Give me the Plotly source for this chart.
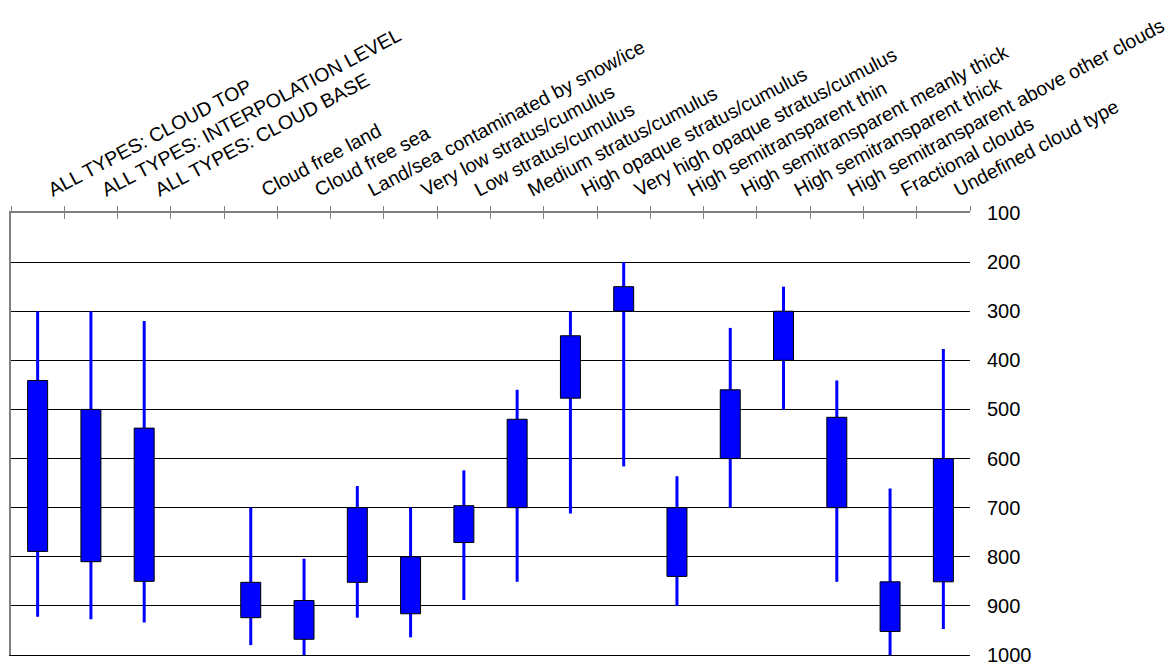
import plotly.graph_objects as go

# Cloud categories along the top axis (empty slot separates the summary columns)
categories = [
    "ALL TYPES: CLOUD TOP",
    "ALL TYPES: INTERPOLATION LEVEL",
    "ALL TYPES: CLOUD BASE",
    "",
    "Cloud free land",
    "Cloud free sea",
    "Land/sea contaminated by snow/ice",
    "Very low stratus/cumulus",
    "Low stratus/cumulus",
    "Medium stratus/cumulus",
    "High opaque stratus/cumulus",
    "Very high opaque stratus/cumulus",
    "High semitransparent thin",
    "High semitransparent meanly thick",
    "High semitransparent thick",
    "High semitransparent above other clouds",
    "Fractional clouds",
    "Undefined cloud type",
]

# Pressure levels (hPa): whisker ends and box edges
whisker_top = [300, 300, 320, None, 700, 804, 656, 700, 624, 460, 300, 200, 636, 334, 250, 441, 661, 377]
box_top     = [441, 500, 538, None, 852, 889, 700, 800, 696, 520, 350, 250, 700, 460, 300, 516, 851, 600]
box_bottom  = [789, 810, 850, None, 924, 968, 852, 916, 771, 700, 477, 300, 840, 600, 400, 700, 952, 851]
whisker_bot = [922, 927, 934, None, 980, 1000, 924, 964, 888, 851, 712, 616, 900, 700, 500, 851, 1000, 947]

pressure_ticks = [100, 200, 300, 400, 500, 600, 700, 800, 900, 1000]

BLUE = "#0000FF"
GRAY = "#808080"
FONT = "Liberation Sans, Arial, sans-serif"
LABEL_SHIFT = 0.2  # nudge slanted labels to the right of the slot centre

n = len(categories)
centers = [i + 0.5 for i in range(n)]
boundaries = list(range(n + 1))
label_pos = [c + LABEL_SHIFT for c in centers]

fig = go.Figure()

# Whiskers (on the labelled top axis)
wx, wy = [], []
for c, lo, hi in zip(centers, whisker_top, whisker_bot):
    if lo is None:
        continue
    wx += [c, c, None]
    wy += [lo, hi, None]
fig.add_trace(go.Scatter(
    x=wx, y=wy, mode="lines", xaxis="x2", yaxis="y",
    line=dict(color=BLUE, width=3),
    hoverinfo="skip", showlegend=False,
))

# Boxes (drawn above the whiskers)
bx, bbase, bh = [], [], []
for c, t, b in zip(centers, box_top, box_bottom):
    if t is None:
        continue
    bx.append(c)
    bbase.append(t)
    bh.append(b - t)
fig.add_trace(go.Bar(
    x=bx, y=bh, base=bbase, width=0.375, xaxis="x3", yaxis="y2",
    marker=dict(color=BLUE, line=dict(color="black", width=1)),
    showlegend=False,
))

# Empty traces so the frame axes are laid out
for xa in ("x", "x4"):
    fig.add_trace(go.Scatter(x=[None], y=[None], xaxis=xa, yaxis="y",
                             showlegend=False, hoverinfo="skip"))

fig.update_layout(
    width=1176, height=664,
    margin=dict(l=11, r=206, t=213, b=9, autoexpand=False),
    paper_bgcolor="white", plot_bgcolor="white",
    font=dict(family=FONT, color="black"),
    showlegend=False,
    xaxis=dict(
        range=[0, n], side="top", anchor="y", automargin=False,
        tickmode="array", tickvals=boundaries,
        ticks="outside", ticklen=5, tickwidth=1, tickcolor=GRAY,
        showticklabels=False, showgrid=False, zeroline=False,
        showline=True, linecolor=GRAY, linewidth=2,
    ),
    xaxis2=dict(
        overlaying="x", matches="x", side="top", anchor="y", automargin=False,
        tickmode="array", tickvals=label_pos, ticktext=categories,
        tickangle=-28, ticks="", ticklabelstandoff=10,
        ticklabeloverflow="allow",
        tickfont=dict(family=FONT, size=19.5, color="black"),
        showgrid=False, zeroline=False, showline=False,
    ),
    xaxis3=dict(
        overlaying="x", matches="x", side="top", anchor="y2", automargin=False,
        tickmode="array", tickvals=boundaries,
        ticks="inside", ticklen=6, tickwidth=1, tickcolor=GRAY,
        showticklabels=False, showgrid=False, zeroline=False, showline=False,
    ),
    xaxis4=dict(
        overlaying="x", matches="x", side="bottom", anchor="y", automargin=False,
        showticklabels=False, ticks="", showgrid=False, zeroline=False,
        showline=True, linecolor="black", linewidth=1,
    ),
    yaxis=dict(
        range=[1000, 100], side="right", anchor="x", automargin=False,
        tickmode="array", tickvals=pressure_ticks,
        ticks="", ticklabelstandoff=16, ticklabeloverflow="allow",
        tickfont=dict(family=FONT, size=20, color="black"),
        showgrid=True, gridcolor="black", gridwidth=1,
        zeroline=False, showline=False,
    ),
    yaxis2=dict(
        overlaying="y", matches="y", side="left", anchor="x", automargin=False,
        showticklabels=False, ticks="", showgrid=False, zeroline=False,
        showline=True, linecolor=GRAY, linewidth=2,
    ),
)

fig.write_html("out.html")
